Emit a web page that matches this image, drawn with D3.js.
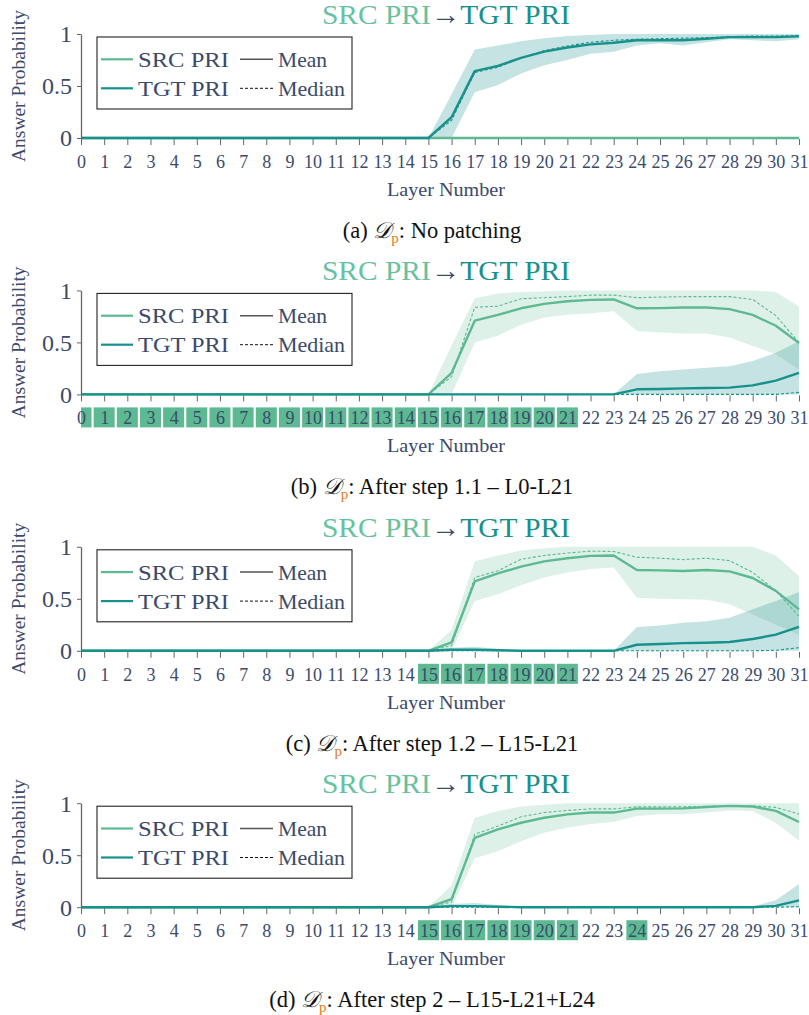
<!DOCTYPE html>
<html><head><meta charset="utf-8">
<script src="https://cdn.jsdelivr.net/npm/d3@7"></script>
<style>body{margin:0;background:#fff} text{font-family:'Liberation Serif','Times New Roman',serif}</style>
</head><body>
<svg id="chart" width="809" height="1015"></svg>
<script>
const layers = [0,1,2,3,4,5,6,7,8,9,10,11,12,13,14,15,16,17,18,19,20,21,22,23,24,25,26,27,28,29,30,31];
const yTicks = [0, 0.5, 1];
const captions = ["(a)|: No patching", "(b)|: After step 1.1 – L0-L21", "(c)|: After step 1.2 – L15-L21", "(d)|: After step 2 – L15-L21+L24"];
const highlighted = [[], [0,1,2,3,4,5,6,7,8,9,10,11,12,13,14,15,16,17,18,19,20,21], [15,16,17,18,19,20,21], [15,16,17,18,19,20,21,24]];

// Panel (a)
const aSrcMean = [0,0,0,0,0,0,0,0,0,0,0,0,0,0,0,0,0,0,0,0,0,0,0,0,0,0,0,0,0,0,0,0];
const aSrcMed  = [0,0,0,0,0,0,0,0,0,0,0,0,0,0,0,0,0,0,0,0,0,0,0,0,0,0,0,0,0,0,0,0];
const aSrcLo   = [0,0,0,0,0,0,0,0,0,0,0,0,0,0,0,0,0,0,0,0,0,0,0,0,0,0,0,0,0,0,0,0];
const aSrcHi   = [0,0,0,0,0,0,0,0,0,0,0,0,0,0,0,0,0,0,0,0,0,0,0,0,0,0,0,0,0,0,0,0];
const aTgtMean = [0,0,0,0,0,0,0,0,0,0,0,0,0,0,0,0,0.20,0.643,0.694,0.77,0.83,0.87,0.90,0.916,0.94,0.94,0.94,0.955,0.97,0.97,0.97,0.977];
const aTgtMed  = [0,0,0,0,0,0,0,0,0,0,0,0,0,0,0,0,0.17,0.63,0.68,0.77,0.84,0.885,0.92,0.94,0.95,0.955,0.96,0.965,0.975,0.98,0.98,0.985];
const aTgtLo   = [0,0,0,0,0,0,0,0,0,0,0,0,0,0,0,0,0,0.44,0.51,0.62,0.70,0.75,0.81,0.83,0.89,0.91,0.89,0.92,0.95,0.94,0.93,0.95];
const aTgtHi   = [0,0,0,0,0,0,0,0,0,0,0,0,0,0,0,0,0.42,0.85,0.89,0.93,0.96,0.98,0.99,1,1,1,1,1,1,1,1,1];

// Panel (b)
const bSrcMean = [0,0,0,0,0,0,0,0,0,0,0,0,0,0,0,0,0.207,0.709,0.764,0.828,0.87,0.896,0.909,0.913,0.828,0.83,0.835,0.835,0.82,0.764,0.66,0.495];
const bSrcMed  = [0,0,0,0,0,0,0,0,0,0,0,0,0,0,0,0,0.17,0.838,0.848,0.92,0.93,0.94,0.955,0.955,0.93,0.935,0.94,0.94,0.94,0.913,0.757,0.50];
const bSrcLo   = [0,0,0,0,0,0,0,0,0,0,0,0,0,0,0,0,0,0.50,0.563,0.67,0.74,0.767,0.78,0.80,0.61,0.595,0.586,0.586,0.547,0.466,0.385,0.24];
const bSrcHi   = [0,0,0,0,0,0,0,0,0,0,0,0,0,0,0,0,0.47,0.925,0.97,0.985,0.99,1,1,1,1,1,1,1,1,1,0.985,0.845];
const bTgtMean = [0,0,0,0,0,0,0,0,0,0,0,0,0,0,0,0,0,0,0,0,0,0,0,0,0.049,0.052,0.058,0.061,0.065,0.087,0.133,0.207];
const bTgtMed  = [0,0,0,0,0,0,0,0,0,0,0,0,0,0,0,0,0,0,0,0,0,0,0,0,0,0,0,0,0,0,0,0.02];
const bTgtLo   = [0,0,0,0,0,0,0,0,0,0,0,0,0,0,0,0,0,0,0,0,0,0,0,0,0,0,0,0,0,0,0,0];
const bTgtHi   = [0,0,0,0,0,0,0,0,0,0,0,0,0,0,0,0,0,0,0,0,0,0,0,0,0.197,0.223,0.24,0.256,0.27,0.32,0.40,0.51];

// Panel (c)
const cSrcMean = [0,0,0,0,0,0,0,0,0,0,0,0,0,0,0,0,0.08,0.667,0.744,0.81,0.86,0.89,0.913,0.916,0.777,0.773,0.767,0.777,0.764,0.70,0.576,0.398];
const cSrcMed  = [0,0,0,0,0,0,0,0,0,0,0,0,0,0,0,0,0.05,0.705,0.77,0.88,0.916,0.94,0.958,0.955,0.90,0.89,0.877,0.89,0.867,0.754,0.576,0.333];
const cSrcLo   = [0,0,0,0,0,0,0,0,0,0,0,0,0,0,0,0,0,0.48,0.544,0.63,0.705,0.754,0.786,0.80,0.51,0.50,0.495,0.49,0.447,0.35,0.25,0.155];
const cSrcHi   = [0,0,0,0,0,0,0,0,0,0,0,0,0,0,0,0,0.20,0.86,0.916,0.964,0.987,1,1,1,1,1,1,1,1,1,0.916,0.72];
const cTgtMean = [0,0,0,0,0,0,0,0,0,0,0,0,0,0,0,0,0.01,0.01,0.005,0,0,0,0,0,0.058,0.065,0.074,0.078,0.084,0.113,0.155,0.23];
const cTgtMed  = [0,0,0,0,0,0,0,0,0,0,0,0,0,0,0,0,0,0,0,0,0,0,0,0,0,0,0,0,0,0,0.005,0.03];
const cTgtLo   = [0,0,0,0,0,0,0,0,0,0,0,0,0,0,0,0,0,0,0,0,0,0,0,0,0,0,0,0,0,0,0,0];
const cTgtHi   = [0,0,0,0,0,0,0,0,0,0,0,0,0,0,0,0,0.03,0.04,0.02,0.005,0,0,0,0,0.23,0.243,0.27,0.285,0.317,0.40,0.48,0.566];

// Panel (d)
const dSrcMean = [0,0,0,0,0,0,0,0,0,0,0,0,0,0,0,0,0.078,0.667,0.748,0.812,0.86,0.893,0.91,0.91,0.948,0.948,0.95,0.964,0.974,0.968,0.926,0.819];
const dSrcMed  = [0,0,0,0,0,0,0,0,0,0,0,0,0,0,0,0,0.05,0.70,0.78,0.87,0.91,0.93,0.945,0.945,0.965,0.965,0.965,0.97,0.975,0.975,0.96,0.895];
const dSrcLo   = [0,0,0,0,0,0,0,0,0,0,0,0,0,0,0,0,0,0.47,0.537,0.634,0.715,0.764,0.80,0.82,0.877,0.893,0.893,0.91,0.93,0.926,0.81,0.64];
const dSrcHi   = [0,0,0,0,0,0,0,0,0,0,0,0,0,0,0,0,0.21,0.86,0.925,0.968,0.984,1,1,1,1,1,1,1,1,1,1,1];
const dTgtMean = [0,0,0,0,0,0,0,0,0,0,0,0,0,0,0,0,0.01,0.01,0.005,0,0,0,0,0,0,0,0,0,0,0,0.013,0.065];
const dTgtMed  = [0,0,0,0,0,0,0,0,0,0,0,0,0,0,0,0,0,0,0,0,0,0,0,0,0,0,0,0,0,0,0,0.005];
const dTgtLo   = [0,0,0,0,0,0,0,0,0,0,0,0,0,0,0,0,0,0,0,0,0,0,0,0,0,0,0,0,0,0,0,0];
const dTgtHi   = [0,0,0,0,0,0,0,0,0,0,0,0,0,0,0,0,0.03,0.04,0.02,0.005,0,0,0,0,0,0,0,0,0,0.005,0.068,0.223];

const panels = [
  {src:{mean:aSrcMean,med:aSrcMed,lo:aSrcLo,hi:aSrcHi}, tgt:{mean:aTgtMean,med:aTgtMed,lo:aTgtLo,hi:aTgtHi}},
  {src:{mean:bSrcMean,med:bSrcMed,lo:bSrcLo,hi:bSrcHi}, tgt:{mean:bTgtMean,med:bTgtMed,lo:bTgtLo,hi:bTgtHi}},
  {src:{mean:cSrcMean,med:cSrcMed,lo:cSrcLo,hi:cSrcHi}, tgt:{mean:cTgtMean,med:cTgtMed,lo:cTgtLo,hi:cTgtHi}},
  {src:{mean:dSrcMean,med:dSrcMed,lo:dSrcLo,hi:dSrcHi}, tgt:{mean:dTgtMean,med:dTgtMed,lo:dTgtLo,hi:dTgtHi}}
];

const SRC = "#5cb992", TGT = "#17918c", TXT = "#3b4a6b", AXC = "#666";
const FONT = "'Liberation Serif', 'Times New Roman', serif";
const svg = d3.select("#chart");
const x = d3.scaleLinear().domain([0, 31]).range([81, 799]);

panels.forEach((p, k) => {
  const zero = 138 + k * 256.4;
  const y = d3.scaleLinear().domain([0, 1]).range([zero, zero - 104]);
  const g = svg.append("g");

  // title
  const t = g.append("text").attr("x", 446).attr("y", zero - 114)
    .attr("text-anchor", "middle").style("font-family", FONT).attr("font-size", 28)
    .attr("textLength", 248).attr("lengthAdjust", "spacingAndGlyphs");
  t.append("tspan").attr("fill", "#66c2a0").text("SRC PRI");
  t.append("tspan").attr("fill", TXT).text("→");
  t.append("tspan").attr("fill", TGT).text("TGT PRI");

  const area = d3.area().x((d, i) => x(layers[i])).y0(d => y(d[0])).y1(d => y(d[1]));
  const line = d3.line().x((d, i) => x(layers[i])).y(d => y(d));

  g.append("path").datum(p.src.lo.map((v, i) => [v, p.src.hi[i]])).attr("d", area)
    .attr("fill", SRC).attr("fill-opacity", 0.2);
  g.append("path").datum(p.tgt.lo.map((v, i) => [v, p.tgt.hi[i]])).attr("d", area)
    .attr("fill", TGT).attr("fill-opacity", 0.25);

  g.append("path").datum(p.src.med).attr("d", line).attr("fill", "none")
    .attr("stroke", SRC).attr("stroke-width", 1.1).attr("stroke-dasharray", "3,2");
  g.append("path").datum(p.src.mean).attr("d", line).attr("fill", "none")
    .attr("stroke", SRC).attr("stroke-width", 2.4).attr("stroke-linejoin", "round");
  g.append("path").datum(p.tgt.med).attr("d", line).attr("fill", "none")
    .attr("stroke", TGT).attr("stroke-width", 1.1).attr("stroke-dasharray", "3,2");
  g.append("path").datum(p.tgt.mean).attr("d", line).attr("fill", "none")
    .attr("stroke", TGT).attr("stroke-width", 2.4).attr("stroke-linejoin", "round");

  // highlight boxes
  g.selectAll("rect.hl").data(highlighted[k]).join("rect").attr("class", "hl")
    .attr("x", d => Math.max(x(d) - 10.5, x(0)))
    .attr("width", d => x(d) + 10.5 - Math.max(x(d) - 10.5, x(0)))
    .attr("y", zero + 13).attr("height", 20).attr("fill", SRC);

  // x axis
  const xa = g.append("g").attr("transform", `translate(0,${zero})`)
    .call(d3.axisBottom(x).tickValues(layers).tickFormat(d => d).tickSize(7).tickPadding(10).tickSizeOuter(0));
  xa.attr("font-family", null);
  xa.select(".domain").remove();
  xa.selectAll(".tick line").attr("stroke", AXC).attr("y1", 1);
  xa.selectAll(".tick text").attr("fill", TXT).style("font-family", FONT).attr("font-size", 18);

  // y axis
  const ya = g.append("g").attr("transform", `translate(${x(0)},0)`)
    .call(d3.axisLeft(y).tickValues(yTicks).tickFormat(d => d === 0.5 ? "0.5" : d).tickSize(4).tickPadding(5).tickSizeOuter(0));
  ya.attr("font-family", null);
  ya.select(".domain").attr("stroke", AXC).attr("stroke-width", 1.3);
  ya.selectAll(".tick line").attr("stroke", AXC);
  ya.selectAll(".tick text").attr("fill", TXT).style("font-family", FONT).attr("font-size", 24).attr("dy", "0.33em");

  g.append("text").attr("transform", `translate(19,${zero - 52}) rotate(-90)`)
    .attr("text-anchor", "middle").attr("dy", "0.35em").attr("fill", TXT)
    .style("font-family", FONT).attr("font-size", 18).attr("textLength", 152)
    .attr("lengthAdjust", "spacingAndGlyphs").text("Answer Probability");

  g.append("text").attr("x", 446).attr("y", zero + 58).attr("text-anchor", "middle")
    .attr("fill", TXT).style("font-family", FONT).attr("font-size", 19)
    .attr("textLength", 118).attr("lengthAdjust", "spacingAndGlyphs").text("Layer Number");

  // legend
  const lg = g.append("g");
  lg.append("rect").attr("x", 97).attr("y", zero - 101).attr("width", 255).attr("height", 72)
    .attr("fill", "#fff").attr("stroke", "#222").attr("stroke-width", 1.1);
  const rows = [zero - 78.7, zero - 49.7];
  const items = [
    {x0: 101, x1: 133, tx: 138, row: 0, label: "SRC PRI", stroke: SRC, w: 2.2, dash: null, len: 91},
    {x0: 101, x1: 133, tx: 138, row: 1, label: "TGT PRI", stroke: TGT, w: 2.2, dash: null, len: 91},
    {x0: 240, x1: 273, tx: 278, row: 0, label: "Mean", stroke: "#555", w: 1.5, dash: null, len: 49},
    {x0: 240, x1: 273, tx: 278, row: 1, label: "Median", stroke: "#111", w: 1, dash: "3,2", len: 67}
  ];
  items.forEach(it => {
    lg.append("line").attr("x1", it.x0).attr("x2", it.x1).attr("y1", rows[it.row]).attr("y2", rows[it.row])
      .attr("stroke", it.stroke).attr("stroke-width", it.w).attr("stroke-dasharray", it.dash);
    lg.append("text").attr("x", it.tx).attr("y", rows[it.row] + 7.5).attr("fill", TXT)
      .style("font-family", FONT).attr("font-size", 22).attr("textLength", it.len)
      .attr("lengthAdjust", "spacingAndGlyphs").text(it.label);
  });

  // caption
  const parts = captions[k].split("|");
  const c = g.append("text").attr("x", 432).attr("y", zero + 100).attr("text-anchor", "middle")
    .attr("fill", "#111").style("font-family", FONT).attr("font-size", 22.5);
  c.append("tspan").text(parts[0] + " ");
  c.append("tspan").style("font-family", "'DejaVu Serif', 'DejaVu Sans', serif").attr("font-style", "italic").text("𝒟");
  c.append("tspan").attr("fill", "#e07a1f").attr("font-size", 15).attr("dy", 5).text("p");
  c.append("tspan").attr("dy", -5).text(parts[1]);
});
</script>
</body></html>
